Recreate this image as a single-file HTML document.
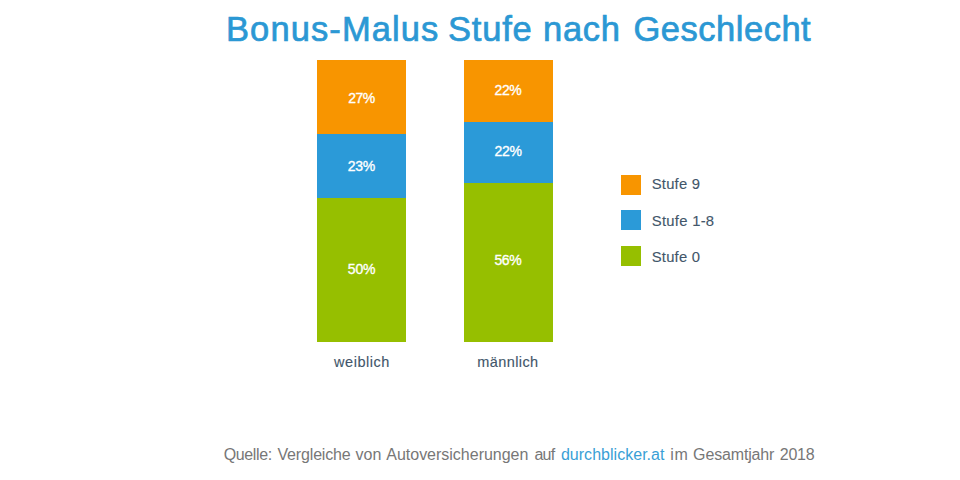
<!DOCTYPE html>
<html><head><meta charset="utf-8">
<style>
html,body{margin:0;padding:0;background:#fff;}
body{width:960px;height:480px;position:relative;overflow:hidden;font-family:"Liberation Sans",sans-serif;}
.t{position:absolute;white-space:nowrap;line-height:1;}
.seg{position:absolute;}
</style></head><body>
<div class="t" style="left:226px;top:12px;font-size:34.5px;color:#2B98D4;-webkit-text-stroke:0.7px #2B98D4;letter-spacing:1.1px;">Bonus-Malus</div>
<div class="t" style="left:448px;top:12px;font-size:34.5px;color:#2B98D4;-webkit-text-stroke:0.7px #2B98D4;letter-spacing:0.8px;">Stufe</div>
<div class="t" style="left:543px;top:12px;font-size:34.5px;color:#2B98D4;-webkit-text-stroke:0.7px #2B98D4;letter-spacing:0.73px;">nach</div>
<div class="t" style="left:633.5px;top:12px;font-size:34.5px;color:#2B98D4;-webkit-text-stroke:0.7px #2B98D4;letter-spacing:0.51px;">Geschlecht</div>
<div class="seg" style="left:317px;top:60px;width:89px;height:74px;background:#F89500;"></div>
<div class="seg" style="left:317px;top:134px;width:89px;height:64px;background:#2B9AD8;"></div>
<div class="seg" style="left:317px;top:198px;width:89px;height:144px;background:#96BF00;"></div>
<div class="seg" style="left:464px;top:60px;width:89px;height:62px;background:#F89500;"></div>
<div class="seg" style="left:464px;top:122px;width:89px;height:61px;background:#2B9AD8;"></div>
<div class="seg" style="left:464px;top:183px;width:89px;height:159px;background:#96BF00;"></div>
<div class="t" style="left:348.3px;top:91px;font-size:14px;color:#fff;-webkit-text-stroke:0.35px #fff;letter-spacing:-0.55px;">27%</div>
<div class="t" style="left:347.8px;top:159px;font-size:14px;color:#fff;-webkit-text-stroke:0.35px #fff;letter-spacing:-0.3px;">23%</div>
<div class="t" style="left:347.8px;top:262px;font-size:14px;color:#fff;-webkit-text-stroke:0.35px #fff;letter-spacing:-0.2px;">50%</div>
<div class="t" style="left:494.6px;top:83px;font-size:14px;color:#fff;-webkit-text-stroke:0.35px #fff;letter-spacing:-0.45px;">22%</div>
<div class="t" style="left:494.4px;top:144px;font-size:14px;color:#fff;-webkit-text-stroke:0.35px #fff;letter-spacing:-0.2px;">22%</div>
<div class="t" style="left:494.4px;top:253px;font-size:14px;color:#fff;-webkit-text-stroke:0.35px #fff;letter-spacing:-0.35px;">56%</div>
<div class="t" style="left:334.1px;top:355px;font-size:14.5px;color:#42566A;-webkit-text-stroke:0.12px #42566A;letter-spacing:0.529px;">weiblich</div>
<div class="t" style="left:477.35px;top:355px;font-size:14.5px;color:#42566A;-webkit-text-stroke:0.12px #42566A;letter-spacing:0.393px;">männlich</div>
<div class="seg" style="left:621px;top:175px;width:20px;height:20px;background:#F89500;"></div>
<div class="seg" style="left:621px;top:210px;width:20px;height:20px;background:#2B9AD8;"></div>
<div class="seg" style="left:621px;top:246px;width:20px;height:20px;background:#96BF00;"></div>
<div class="t" style="left:651.8px;top:176.5px;font-size:14.8px;color:#42566A;-webkit-text-stroke:0.12px #42566A;letter-spacing:0.2px;">Stufe 9</div>
<div class="t" style="left:651.8px;top:213.5px;font-size:14.8px;color:#42566A;-webkit-text-stroke:0.12px #42566A;letter-spacing:0.281px;">Stufe 1-8</div>
<div class="t" style="left:651.8px;top:250px;font-size:14.8px;color:#42566A;-webkit-text-stroke:0.12px #42566A;letter-spacing:0.2px;">Stufe 0</div>
<div class="t" style="left:223.75px;top:447px;font-size:16px;color:#777777;letter-spacing:-0.375px;">Quelle:</div>
<div class="t" style="left:277.5px;top:447px;font-size:16px;color:#777777;letter-spacing:-0.167px;">Vergleiche</div>
<div class="t" style="left:355.6px;top:447px;font-size:16px;color:#777777;letter-spacing:0.0px;">von</div>
<div class="t" style="left:386.25px;top:447px;font-size:16px;color:#777777;letter-spacing:-0.009px;">Autoversicherungen</div>
<div class="t" style="left:534.5px;top:447px;font-size:16px;color:#777777;letter-spacing:-0.8px;">auf</div>
<div class="t" style="left:560.9px;top:447px;font-size:16px;color:#3A9FD6;letter-spacing:0.029px;">durchblicker.at</div>
<div class="t" style="left:670.25px;top:447px;font-size:16px;color:#777777;letter-spacing:0.65px;">im</div>
<div class="t" style="left:693.1px;top:447px;font-size:16px;color:#777777;letter-spacing:-0.156px;">Gesamtjahr</div>
<div class="t" style="left:779.7px;top:447px;font-size:16px;color:#777777;letter-spacing:-0.2px;">2018</div>
</body></html>
